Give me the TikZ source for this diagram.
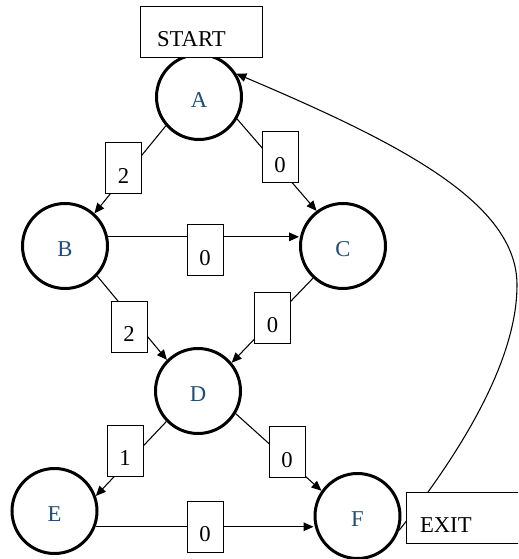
\documentclass[tikz,border=0pt]{standalone}
\usepackage{fontspec}
\setmainfont{Liberation Serif}
\usetikzlibrary{arrows.meta}
\definecolor{letterblue}{RGB}{31,78,121}
\begin{document}
\begin{tikzpicture}[x=0.75pt,y=-0.75pt,
  state/.style={circle,draw,line width=2.25pt,minimum size=63.75pt,inner sep=0pt,
    text=letterblue,font=\fontsize{17}{20}\selectfont,text height=16.4pt,text depth=0pt},
  weight/.style={rectangle,draw,fill=white,line width=0.75pt,minimum width=27pt,
    minimum height=38.25pt,inner sep=0pt,font=\fontsize{17}{20}\selectfont,
    text height=22.7pt,text depth=0pt},
  tag/.style={rectangle,draw,fill=white,line width=0.75pt,minimum height=38.25pt,
    inner ysep=0pt,align=left,font=\fontsize{17}{20}\selectfont,
    text height=21.7pt,text depth=0pt},
  edge/.style={line width=0.8pt,-{Triangle[length=7.5pt,width=6.5pt]}}]

\fill[white] (0,0) rectangle (518,559);
\clip (0,0) rectangle (518,559);

% states
\node[state] (A) at (199,97)    {A};
\node[state] (B) at (65,246)    {B};
\node[state] (C) at (343,246)   {C};
\node[state] (D) at (198,391)   {D};
\node[state] (E) at (54.5,511)  {E};
\node[state] (F) at (357.5,516) {F};

% transitions
\draw[edge] (A.221) -- (B.48);
\draw[edge] (A.-30) -- (C.127);
\draw[edge] (B.12) -- (B.12 -| C.west);
\draw[edge] (B.-43) -- (D.135);
\draw[edge] (C.227) -- (D.40);
\draw[edge] (D.224) -- (E.20);
\draw[edge] (D.-31) -- (F.145);
\draw[edge] (E.-21) -- (E.-21 -| F.west);

% loop back from the exit to the start
\draw[edge] (F.-19) .. controls (483,424) and (517,344) .. (517,285)
                     .. controls (517,203) and (402,144) .. (A.32);

% weights
\node[weight] (wAB) at (123.5,168)  {2};
\node[weight] (wAC) at (280,157.5)  {0};
\node[weight] (wBC) at (205,250)    {0};
\node[weight] (wBD) at (129,326.5)  {2};
\node[weight] (wCD) at (272.5,317.5){0};
\node[weight] (wDE) at (125,450.5)  {1};
\node[weight] (wDF) at (287,452)    {0};
\node[weight] (wEF) at (205,526.5)  {0};

% start and exit tags
\node[tag,text width=66pt,inner xsep=12.75pt] (start) at (201,32.5) {START};
\node[tag,text width=72pt,inner xsep=10.5pt] (exit) at (468,518) {EXIT};
\end{tikzpicture}
\end{document}
